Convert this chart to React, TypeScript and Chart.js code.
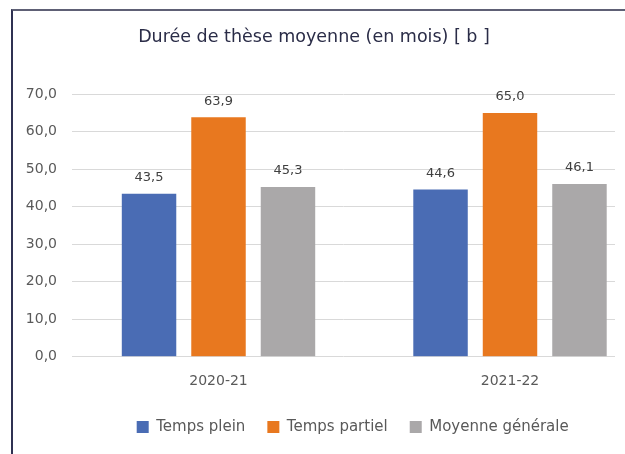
import { useEffect, useRef } from "react";
import { Chart, registerables } from "chart.js";

Chart.register(...registerables);

const categories = ["2020-21", "2021-22"];
const seriesNames = ["Temps plein", "Temps partiel", "Moyenne générale"];
const tempsPlein = [43.5, 44.6];
const tempsPartiel = [63.9, 65.0];
const moyenneGenerale = [45.3, 46.1];
const yTicks = [0, 10, 20, 30, 40, 50, 60, 70];
const seriesColors = ["#4a6cb4", "#e8781f", "#aaa8a9"];
const titleText = "Durée de thèse moyenne (en mois) [ b ]";

const FONT = "'DejaVu Sans', sans-serif";
const fmt = (v: number) => v.toFixed(1).replace(".", ",");

const valueLabelPlugin = {
  id: "valueLabels",
  afterDatasetsDraw(chart: any) {
    const ctx = chart.ctx;
    ctx.save();
    ctx.font = `13px ${FONT}`;
    ctx.fillStyle = "#404040";
    ctx.textAlign = "center";
    ctx.textBaseline = "middle";
    chart.data.datasets.forEach((ds: any, di: number) => {
      const meta = chart.getDatasetMeta(di);
      meta.data.forEach((bar: any, i: number) => {
        const v = ds.data[i].y;
        ctx.fillText(fmt(v), bar.x, bar.y - 16);
      });
    });
    ctx.restore();
  },
};

const legendPlacePlugin = {
  id: "legendPlace",
  afterLayout(chart: any) {
    const lg = chart.legend;
    if (!lg) return;
    const w = lg.right - lg.left;
    lg.left = 101.7;
    lg.right = lg.left + w;
  },
};

export default function App() {
  const ref = useRef<HTMLCanvasElement>(null);
  useEffect(() => {
    const seriesValues = [tempsPlein, tempsPartiel, moyenneGenerale];
    const chart = new Chart(ref.current as HTMLCanvasElement, {
      type: "bar",
      data: {
        datasets: seriesValues.map((vals, k) => ({
          label: seriesNames[k],
          data: vals.map((v, i) => ({ x: i, y: v })),
          backgroundColor: seriesColors[k],
          borderWidth: 0,
          categoryPercentage: 0.715,
          barPercentage: 0.784,
        })),
      } as any,
      options: {
        animation: false,
        responsive: false,
        maintainAspectRatio: false,
        devicePixelRatio: 1,
        layout: { padding: { left: 0, right: 10, top: 0, bottom: 9.5 } },
        plugins: {
          title: {
            display: true,
            text: titleText,
            color: "#2a2c47",
            font: { family: FONT, size: 17.5, weight: "normal", lineHeight: 1.2 },
            padding: { top: 16, bottom: 46.3 },
          },
          legend: {
            position: "bottom",
            align: "start",
            labels: {
              boxWidth: 12,
              boxHeight: 12,
              padding: 22,
              color: "#595959",
              font: { family: FONT, size: 15 },
            },
          },
          tooltip: { enabled: false },
        },
        scales: {
          x: {
            type: "linear",
            offset: false,
            bounds: "data",
            min: -0.5026,
            max: 1.3602,
            grid: { display: false, drawTicks: false, offset: false },
            border: { display: false },
            afterBuildTicks: (s: any) => {
              s.ticks = categories.map((_, i) => ({ value: i }));
            },
            ticks: {
              callback: (v: any) => categories[v] ?? "",
              color: "#595959",
              font: { family: FONT, size: 14 },
              padding: 16,
              maxRotation: 0,
              autoSkip: false,
            },
            afterFit: (s: any) => {
              s.height = 40.8;
            },
          },
          y: {
            min: 0,
            max: 70,
            afterBuildTicks: (s: any) => {
              s.ticks = yTicks.map((v) => ({ value: v }));
            },
            grid: { color: "#d9d9d9", drawTicks: false, lineWidth: 1 },
            border: { display: false },
            ticks: {
              callback: (v: any) => fmt(Number(v)),
              color: "#595959",
              font: { family: FONT, size: 14 },
              padding: 15,
            },
            afterFit: (s: any) => {
              s.width = 59;
            },
          },
        },
      } as any,
      plugins: [valueLabelPlugin, legendPlacePlugin],
    });
    return () => chart.destroy();
  }, []);

  return (
    <div
      style={{
        position: "absolute",
        left: 11,
        top: 9,
        width: 614,
        height: 445,
        boxSizing: "border-box",
        borderLeft: "2px solid #2f3152",
        borderTop: "2px solid #5e6075",
        background: "#ffffff",
        overflow: "hidden",
      }}
    >
      <canvas ref={ref} width={612} height={443} style={{ display: "block", width: 612, height: 443 }} />
    </div>
  );
}
